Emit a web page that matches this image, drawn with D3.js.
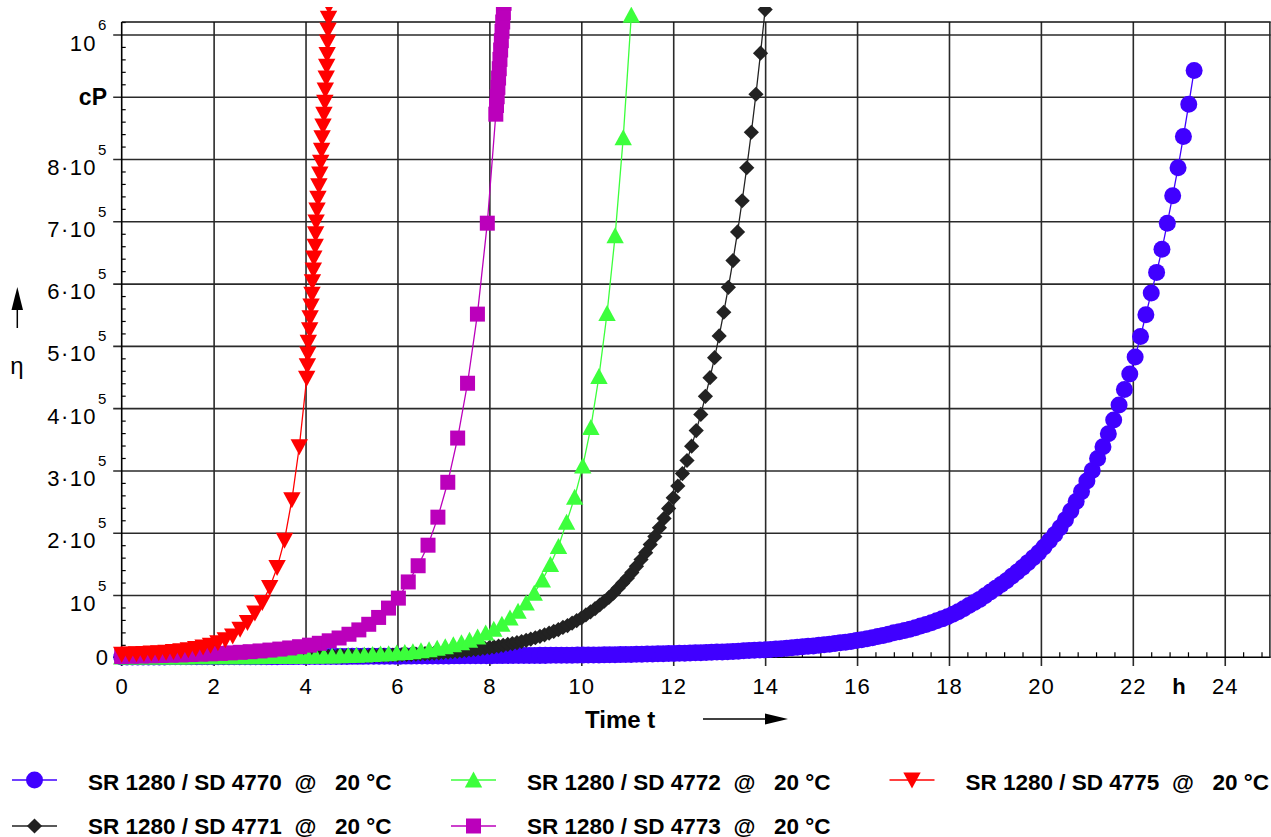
<!DOCTYPE html>
<html><head><meta charset="utf-8">
<script src="https://cdn.jsdelivr.net/npm/d3@7"></script>
<style>
body{margin:0;background:#fff}
svg{display:block;font-family:"Liberation Sans",Arial,Helvetica,sans-serif}
text{white-space:pre}
</style>
</head><body>
<svg id="chart" width="1271" height="837"></svg>
<script>
// ---------- data (viscosity in 10^3 cP, time in h) ----------
const xTickValues = [0,2,4,6,8,10,12,14,16,18,20,22,24];
const yTickValues = [100000,200000,300000,400000,500000,600000,700000,800000];
const yTickMant = ["10","2·10","3·10","4·10","5·10","6·10","7·10","8·10"];
const yTickExp = "5";
const legendLabels = [
  "SR 1280 / SD 4770  @   20 °C",
  "SR 1280 / SD 4771  @   20 °C",
  "SR 1280 / SD 4772  @   20 °C",
  "SR 1280 / SD 4773  @   20 °C",
  "SR 1280 / SD 4775  @   20 °C"
];

// SD 4770 - sampled every 7 min
const blueInterval = 0.11667;
const blueEta = [
0.5,0.5,0.5,0.5,0.6,0.6,0.6,0.6,0.6,0.7,0.7,0.7,0.7,0.7,0.7,0.8,0.8,0.8,
0.8,0.8,0.8,0.9,0.9,0.9,0.9,1.0,1.0,1.0,1.0,1.0,1.1,1.1,1.1,1.2,1.2,
1.2,1.2,1.3,1.3,1.3,1.4,1.4,1.4,1.5,1.5,1.5,1.6,1.6,1.7,1.7,1.8,1.8,
1.8,1.9,1.9,2.0,2.0,2.0,2.1,2.1,2.2,2.2,2.3,2.3,2.4,2.4,2.5,2.5,2.6,
2.6,2.7,2.7,2.8,2.8,2.9,2.9,3.0,3.0,3.1,3.1,3.2,3.2,3.3,3.4,3.4,3.5,
3.5,3.6,3.7,3.8,3.9,4.0,4.2,4.3,4.5,
4.6,4.8,5.0,5.2,5.4,5.6,5.8,6.0,
6.2,6.4,6.7,7.0,7.2,7.5,7.8,8.1,8.4,
8.7,9.1,9.5,9.9,10.4,10.9,11.4,11.9,
12.0,12.6,13.2,13.9,14.6,15.4,16.2,17.0,17.8,
18.3,19.2,20.1,21.1,22.1,23.2,24.3,25.5,26.8,
28.2,29.8,31.5,33.3,35.2,37.2,39.3,41.0,
43.0,45.2,47.6,50.1,52.8,55.6,58.6,61.7,65.0,
69,73,78,83,88,93,99,105,
111,117,123,130,137,144,152,160,168,
177,187,197,
208,221,235,250,266,283,
300,319,338,359,381,405,
430,455,482,515,
550,585,618,655,697,741,786,836,888,942
];

// SD 4771 - sampled every 6 min
const blackInterval = 0.1;
const blackEta = [
0.5,0.5,0.5,0.5,0.5,0.5,0.5,0.5,0.5,0.5,0.5,0.5,0.5,
0.6,0.6,0.6,0.6,0.6,0.6,0.7,0.7,0.7,0.7,0.7,0.8,0.8,0.8,0.8,
0.9,0.9,0.9,1.0,1.0,1.0,1.1,1.1,1.2,1.2,1.3,1.3,1.4,1.4,1.5,1.5,
1.6,1.7,1.8,1.9,2.0,2.1,2.2,2.3,2.4,2.6,2.7,2.9,3.1,3.3,3.5,3.7,3.9,
4.2,4.5,4.8,5.1,5.5,5.9,6.3,6.7,7.2,7.7,8.3,8.9,9.5,10.2,11.0,11.8,
12.6,13.5,14.5,15.6,16.7,17.9,19.2,20.6,22.1,23.7,25.4,27.3,29.3,31.4,
33.7,36.1,38.7,41.5,44.5,48,51,55,59,63,68,73,78,84,90,96,103,111,119,
127,136,146,157,168,181,194,208,223,239,256,275,295,316,339,364,390,
419,449,481,516,554,594,637,683,733,786,843,904,970,1040
];

// SD 4772 - sampled every 10.5 min
const greenInterval = 0.176;
const greenEta = [
0.5,0.5,0.5,0.5,0.5,0.6,0.6,0.6,0.6,0.7,0.7,0.7,0.8,0.8,0.9,0.9,1.0,1.0,
1.1,1.2,1.3,1.4,1.5,1.6,1.8,2.0,2.2,2.5,2.9,3.3,3.8,4.4,5.1,5.9,6.8,7.8,
9.0,10.5,12.3,14.5,17,20,23.5,27.5,32.6,39,45,53,63,74,87,103,124,149,
178,217,257,307,369,451,552,677,834,1031
];

// SD 4773 - sampled every 13 min, then a fast final run
const purpleInterval = 0.215;
const purpleEta = [
1.2,1.6,2.0,2.4,2.8,3.3,3.8,4.4,5.0,5.6,6.3,7.1,8.0,9.0,10.2,11.6,13.2,
15,17,19.5,22.5,26.5,31,37,44,53,64,79,95,121,147,180,225,281,352,440,551,697
];
const purpleEndTimes = [8.14,8.155,8.17,8.185,8.2,8.215,8.23,8.245,8.26,8.275,8.29,8.305,8.32];
const purpleEndEta = [872,886,900,915,930,945,960,975,990,1005,1020,1035,1050];

// SD 4775 - sampled every 9.7 min, then a fast final run
const redInterval = 0.161;
const redEta = [
5.0,5.3,5.7,6.2,6.8,7.5,8.3,9.3,10.5,12,14,16.5,19.5,23.5,28,34,45,56,71,88,
112,144,188,253,338,448
];
const redEndTimes = [4.04,4.05,4.06,4.09,4.10,4.12,4.14,4.15,4.17,4.18,4.21,4.22,4.23,4.25,4.27,4.29,
4.31,4.33,4.35,4.36,4.38,4.40,4.42,4.43,4.45,4.46,4.47,4.48,4.49,4.50,4.51];
const redEndEta = [468,487,506,526,545,564,583,603,622,641,660,680,699,718,737,757,776,795,814,834,
853,872,891,911,930,949,968,988,1007,1026,1046];

// ---------- build series ----------
function regular(interval, eta){ return eta.map((v,i)=>({t:i*interval, v:v*1000})); }
function extra(times, eta){ return times.map((t,i)=>({t:t, v:eta[i]*1000})); }

const series = [
  {label:legendLabels[0], color:"#4000ff", shape:"circle",  pts: regular(blueInterval, blueEta)},
  {label:legendLabels[1], color:"#222222", shape:"diamond", pts: regular(blackInterval, blackEta)},
  {label:legendLabels[2], color:"#3cff3c", shape:"triUp",   pts: regular(greenInterval, greenEta)},
  {label:legendLabels[3], color:"#bb00bb", shape:"square",  pts: regular(purpleInterval, purpleEta).concat(extra(purpleEndTimes, purpleEndEta))},
  {label:legendLabels[4], color:"#ff0000", shape:"triDown", pts: regular(redInterval, redEta).concat(extra(redEndTimes, redEndEta))}
];

// ---------- layout ----------
const svg = d3.select("#chart");
const x = d3.scaleLinear().domain([0,25]).range([121.7,1270.7]);
const y = d3.scaleLinear().domain([0,1020000]).range([657.3,22]);
const pLeft = x(0), pRight = x(25), pTop = y(1020000), pBottom = y(0);
const font = '"Liberation Sans",Arial,Helvetica,sans-serif';

svg.append("defs").append("clipPath").attr("id","clip")
  .append("rect").attr("x",0).attr("y",7).attr("width",1271).attr("height",830);

// horizontal grid (major y) extending left as ticks
const yMajor = d3.range(100000, 1000001, 100000);
svg.append("g").attr("transform",`translate(${pLeft-8.5},0)`)
  .call(d3.axisRight(y).tickValues(yMajor).tickSize(pRight-pLeft+8.5).tickFormat(""))
  .call(g=>g.select(".domain").remove())
  .call(g=>g.selectAll("line").attr("stroke","#2a2a2a").attr("stroke-width",1.6));

// vertical grid (major x) extending down as ticks
svg.append("g").attr("transform",`translate(0,${pBottom+8.7})`)
  .call(d3.axisTop(x).tickValues(d3.range(2,25,2)).tickSize(pBottom+8.7-pTop).tickFormat(""))
  .call(g=>g.select(".domain").remove())
  .call(g=>g.selectAll("line").attr("stroke","#2a2a2a").attr("stroke-width",1.6));

// minor ticks
const yMinor = d3.range(20000, 1020001, 20000).filter(v=>v%100000!==0);
svg.append("g").attr("transform",`translate(${pLeft},0)`)
  .call(d3.axisRight(y).tickValues(yMinor).tickSize(4).tickFormat(""))
  .call(g=>g.select(".domain").remove())
  .call(g=>g.selectAll("line").attr("stroke","#000").attr("stroke-width",1.2));
const xMinor = d3.range(0.4, 25, 0.4).filter(v=>Math.abs(v/2-Math.round(v/2))>0.01);
svg.append("g").attr("transform",`translate(0,${pBottom})`)
  .call(d3.axisTop(x).tickValues(xMinor).tickSize(5).tickFormat(""))
  .call(g=>g.select(".domain").remove())
  .call(g=>g.selectAll("line").attr("stroke","#000").attr("stroke-width",1.2));

// frame / axes lines
svg.append("line").attr("x1",pLeft).attr("x2",pLeft).attr("y1",pTop).attr("y2",pBottom+8.7).attr("stroke","#000").attr("stroke-width",1.6);
svg.append("line").attr("x1",pLeft-8.5).attr("x2",pRight).attr("y1",pBottom).attr("y2",pBottom).attr("stroke","#000").attr("stroke-width",1.6);
svg.append("line").attr("x1",pLeft).attr("x2",pRight).attr("y1",pTop).attr("y2",pTop).attr("stroke","#111").attr("stroke-width",1.6);
svg.append("line").attr("x1",pRight-0.8).attr("x2",pRight-0.8).attr("y1",pTop).attr("y2",pBottom).attr("stroke","#2a2a2a").attr("stroke-width",1.6);

// x tick labels
svg.append("g").attr("transform",`translate(0,${pBottom})`)
  .call(d3.axisBottom(x).tickValues(xTickValues).tickSize(0).tickPadding(36.5).tickFormat(d3.format("d")))
  .call(g=>g.select(".domain").remove())
  .call(g=>g.selectAll("text").attr("font-size",22).attr("letter-spacing","1px").attr("font-family",font).attr("fill","#000").attr("dy",null));

// y tick labels
const yl = svg.append("g").attr("font-family",font).attr("fill","#000");
yl.append("text").attr("x",108).attr("y",pBottom+8).attr("text-anchor","end").attr("font-size",22).text("0");
yTickValues.forEach((v,i)=>{
  yl.append("text").attr("x",97).attr("y",y(v)+15.5).attr("text-anchor","end").attr("font-size",22).attr("letter-spacing","1.4px").text(yTickMant[i]);
  yl.append("text").attr("x",98).attr("y",y(v)-4.5).attr("text-anchor","start").attr("font-size",15).text(yTickExp);
});
yl.append("text").attr("x",97).attr("y",y(1000000)+16.5).attr("text-anchor","end").attr("font-size",22).attr("letter-spacing","1.4px").text("10");
yl.append("text").attr("x",98).attr("y",y(1000000)-4.5).attr("text-anchor","start").attr("font-size",15).text("6");
yl.append("text").attr("x",107).attr("y",y(900000)+8.5).attr("text-anchor","end").attr("font-size",23).attr("font-weight","bold").text("cP");

// axis titles
svg.append("text").attr("x",17).attr("y",374).attr("text-anchor","middle").attr("font-size",24).attr("font-family",font).text("η");
svg.append("line").attr("x1",17.3).attr("x2",17.3).attr("y1",328).attr("y2",305).attr("stroke","#000").attr("stroke-width",1.5);
svg.append("path").attr("d","M11.5,310 L23,310 L17.3,287 Z").attr("fill","#000");
svg.append("text").attr("x",585).attr("y",727.5).attr("font-size",24).attr("font-weight","bold").attr("font-family",font).text("Time t");
svg.append("line").attr("x1",703).attr("x2",768).attr("y1",719).attr("y2",719).attr("stroke","#000").attr("stroke-width",1.5);
svg.append("path").attr("d","M765,713.5 L765,724.5 L788,719 Z").attr("fill","#000");
svg.append("text").attr("x",1179).attr("y",pBottom+37).attr("text-anchor","middle").attr("font-size",22).attr("font-weight","bold").attr("font-family",font).text("h");

// ---------- markers ----------
function marker(shape, cx, cy){
  switch(shape){
    case "circle": { const r=8.5; return `M${cx-r},${cy}a${r},${r} 0 1,0 ${2*r},0a${r},${r} 0 1,0 ${-2*r},0Z`; }
    case "diamond": { const h=7.6; return `M${cx},${cy-h}L${cx+h},${cy}L${cx},${cy+h}L${cx-h},${cy}Z`; }
    case "square": { const h=7.5; return `M${cx-h},${cy-h}H${cx+h}V${cy+h}H${cx-h}Z`; }
    case "triUp": return `M${cx},${cy-8.5}L${cx+8.7},${cy+7.5}L${cx-8.7},${cy+7.5}Z`;
    case "triDown": return `M${cx},${cy+8.5}L${cx+8.7},${cy-7.5}L${cx-8.7},${cy-7.5}Z`;
  }
}
const plot = svg.append("g").attr("clip-path","url(#clip)");
const lineGen = d3.line().x(d=>x(d.t)).y(d=>y(d.v));
series.forEach(s=>{
  const g = plot.append("g");
  g.append("path").attr("d",lineGen(s.pts)).attr("fill","none").attr("stroke",s.color).attr("stroke-width",1.3);
  g.selectAll("path.m").data(s.pts).enter().append("path").attr("class","m")
    .attr("d",d=>marker(s.shape, x(d.t), y(d.v))).attr("fill",s.color);
});

// ---------- legend ----------
const legCols = [34.5, 473.5, 912];
const legRows = [{my:780, ty:790},{my:826, ty:833.5}];
series.forEach((s,i)=>{
  const c = legCols[Math.floor(i/2)], r = legRows[i%2];
  const g = svg.append("g");
  g.append("line").attr("x1",c-22.5).attr("x2",c+22.5).attr("y1",r.my).attr("y2",r.my).attr("stroke",s.color).attr("stroke-width",1.5);
  g.append("path").attr("d",marker(s.shape,c,r.my)).attr("fill",s.color);
  g.append("text").attr("x",c+53.5).attr("y",r.ty).attr("font-size",22.5).attr("font-weight","bold").attr("font-family",font).attr("fill","#000").text(s.label);
});
</script>
</body></html>
